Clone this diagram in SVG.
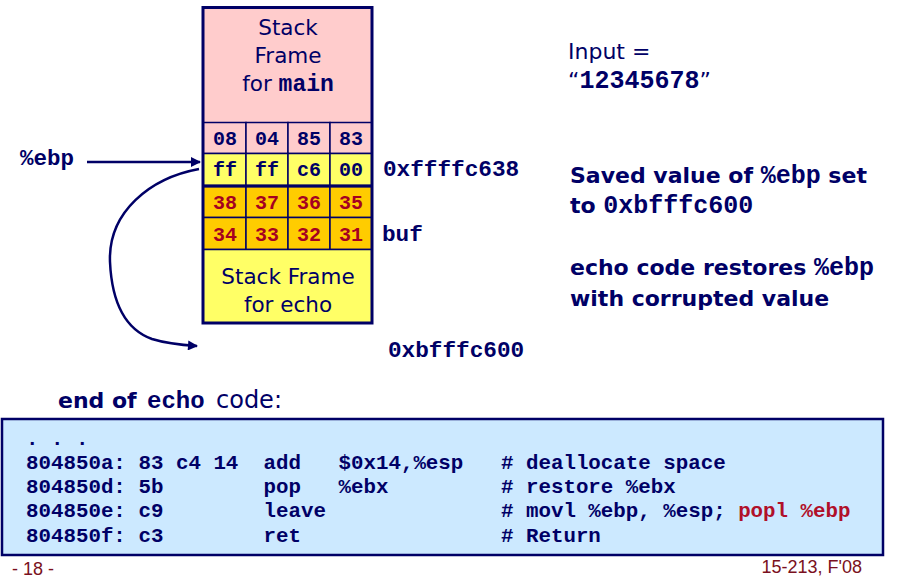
<svg xmlns="http://www.w3.org/2000/svg" width="905" height="580" viewBox="0 0 905 580">
  <style>
    .sans { font-family: "DejaVu Sans", "Noto Sans", sans-serif; fill: #000066; }
    .sansb { font-family: "DejaVu Sans", "Noto Sans", sans-serif; font-weight: bold; fill: #000066; }
    .mono { font-family: "Liberation Mono", "DejaVu Sans Mono", monospace; font-weight: bold; fill: #000066; }
    .cell { stroke: #000066; stroke-width: 1.5; }
    .pink { fill: #FFCCCC; }
    .yellow { fill: #FFFF66; }
    .orange { fill: #FFCC00; }
    .byte { font-family: "Liberation Mono", "DejaVu Sans Mono", monospace; font-weight: bold; font-size: 20px; text-anchor: middle; fill: #000066; }
    .byte.red { fill: #A50021; }
    .conn { fill: none; stroke: #000066; stroke-width: 2.5; }
    .code { font-family: "Liberation Mono", "DejaVu Sans Mono", monospace; font-weight: bold; font-size: 20.8px; fill: #000066; }
    .foot { font-family: "Liberation Sans", Arial, sans-serif; font-size: 18px; fill: #7A1020; }
  </style>
  <defs>
    <marker id="head" viewBox="0 0 10 10" refX="9" refY="5" markerWidth="5" markerHeight="4" orient="auto" markerUnits="strokeWidth">
      <path d="M0,0 L10,5 L0,10 Z" fill="#000066"/>
    </marker>
  </defs>

  <!-- stack diagram -->
  <g id="frame-main">
    <rect x="203" y="7.5" width="169" height="115" class="pink"/>
    <text class="sans" font-size="21.5" text-anchor="middle" x="288" y="35">Stack</text>
    <text class="sans" font-size="21.5" text-anchor="middle" x="288" y="63">Frame</text>
    <text class="sans" font-size="21.5" text-anchor="middle" x="288" y="91">for <tspan class="mono" font-size="23">main</tspan></text>
  </g>

  <g id="row-return">
    <rect x="203" y="122.5" width="43" height="31" class="cell pink"/>
    <rect x="246" y="122.5" width="42" height="31" class="cell pink"/>
    <rect x="288" y="122.5" width="42" height="31" class="cell pink"/>
    <rect x="330" y="122.5" width="42" height="31" class="cell pink"/>
    <text class="byte" x="225" y="145">08</text>
    <text class="byte" x="267" y="145">04</text>
    <text class="byte" x="309" y="145">85</text>
    <text class="byte" x="351" y="145">83</text>
  </g>

  <g id="row-saved-ebp">
    <rect x="203" y="153.5" width="43" height="32" class="cell yellow"/>
    <rect x="246" y="153.5" width="42" height="32" class="cell yellow"/>
    <rect x="288" y="153.5" width="42" height="32" class="cell yellow"/>
    <rect x="330" y="153.5" width="42" height="32" class="cell yellow"/>
    <text class="byte" x="225" y="176">ff</text>
    <text class="byte" x="267" y="176">ff</text>
    <text class="byte" x="309" y="176">c6</text>
    <text class="byte" x="351" y="176">00</text>
  </g>

  <g id="row-buf-hi">
    <rect x="203" y="186.5" width="43" height="31" class="cell orange"/>
    <rect x="246" y="186.5" width="42" height="31" class="cell orange"/>
    <rect x="288" y="186.5" width="42" height="31" class="cell orange"/>
    <rect x="330" y="186.5" width="42" height="31" class="cell orange"/>
    <text class="byte red" x="225" y="209">38</text>
    <text class="byte red" x="267" y="209">37</text>
    <text class="byte red" x="309" y="209">36</text>
    <text class="byte red" x="351" y="209">35</text>
  </g>

  <g id="row-buf-lo">
    <rect x="203" y="217.5" width="43" height="32" class="cell orange"/>
    <rect x="246" y="217.5" width="42" height="32" class="cell orange"/>
    <rect x="288" y="217.5" width="42" height="32" class="cell orange"/>
    <rect x="330" y="217.5" width="42" height="32" class="cell orange"/>
    <text class="byte red" x="225" y="241">34</text>
    <text class="byte red" x="267" y="241">33</text>
    <text class="byte red" x="309" y="241">32</text>
    <text class="byte red" x="351" y="241">31</text>
  </g>

  <g id="frame-echo">
    <rect x="203" y="249.5" width="169" height="73.5" class="yellow"/>
    <line x1="203" y1="249.5" x2="372" y2="249.5" stroke="#000066" stroke-width="1.5"/>
    <text class="sans" font-size="21.5" text-anchor="middle" x="288" y="284">Stack Frame</text>
    <text class="sans" font-size="21.5" text-anchor="middle" x="288" y="312">for echo</text>
  </g>

  <!-- outer border and thick separator between saved %ebp and buf -->
  <g id="stack-border" fill="none" stroke="#000066" stroke-width="3">
    <rect x="203" y="7.5" width="169" height="315.5"/>
    <line x1="203" y1="186" x2="372" y2="186"/>
  </g>

  <!-- labels around the stack -->
  <g id="label-ebp"><text class="mono" font-size="22.5" x="20" y="165">%ebp</text></g>
  <g id="label-addr-hi"><text class="mono" font-size="22.7" x="383" y="176">0xffffc638</text></g>
  <g id="label-buf"><text class="mono" font-size="22.7" x="382" y="241">buf</text></g>
  <g id="label-addr-lo"><text class="mono" font-size="22.7" x="388" y="357">0xbfffc600</text></g>

  <g id="connectors">
    <line class="conn" x1="87" y1="162" x2="200" y2="162" marker-end="url(#head)"/>
    <path class="conn" d="M199,169 C150,178 108,212 110,262 C112,305 127,330 152,339 C168,344 182,345 197,346" marker-end="url(#head)"/>
  </g>

  <!-- notes on the right -->
  <g id="note-input">
    <text class="sans" font-size="22" x="568" y="59">Input =</text>
    <text class="sans" font-size="22" x="568" y="88">“<tspan class="mono" font-size="25">12345678</tspan>”</text>
  </g>
  <g id="note-saved">
    <text class="sansb" font-size="22" x="570" y="183">Saved value of <tspan class="mono" font-size="25">%ebp</tspan> set</text>
    <text class="sansb" font-size="22" x="570" y="213">to <tspan class="mono" font-size="25">0xbfffc600</tspan></text>
  </g>
  <g id="note-restore">
    <text class="sansb" font-size="22" x="570" y="275">echo code restores <tspan class="mono" font-size="25">%ebp</tspan></text>
    <text class="sansb" font-size="22" x="570" y="306">with corrupted value</text>
  </g>

  <!-- disassembly -->
  <g id="code-title">
    <text font-size="23" y="408"><tspan class="sansb" x="58" font-size="22">end of</tspan><tspan class="mono" x="147" font-size="24">echo</tspan><tspan class="sans" x="216" font-size="24">code:</tspan></text>
  </g>
  <g id="code-box">
    <rect x="2" y="419" width="881" height="136" fill="#CCE9FF" stroke="#000066" stroke-width="2.5"/>
    <text class="code" x="26" y="445">. . .</text>
    <text class="code" y="469"><tspan x="26">804850a:</tspan><tspan x="138.5">83 c4 14</tspan><tspan x="263.5">add</tspan><tspan x="338.5">$0x14,%esp</tspan><tspan x="501"># deallocate space</tspan></text>
    <text class="code" y="493"><tspan x="26">804850d:</tspan><tspan x="138.5">5b</tspan><tspan x="263.5">pop</tspan><tspan x="338.5">%ebx</tspan><tspan x="501"># restore %ebx</tspan></text>
    <text class="code" y="517"><tspan x="26">804850e:</tspan><tspan x="138.5">c9</tspan><tspan x="263.5">leave</tspan><tspan x="501"># movl %ebp, %esp; </tspan><tspan fill="#B0102A">popl %ebp</tspan></text>
    <text class="code" y="542"><tspan x="26">804850f:</tspan><tspan x="138.5">c3</tspan><tspan x="263.5">ret</tspan><tspan x="501"># Return</tspan></text>
  </g>

  <g id="footer">
    <text class="foot" x="12" y="575">- 18 -</text>
    <text class="foot" x="862" y="573" text-anchor="end">15-213, F'08</text>
  </g>
</svg>
